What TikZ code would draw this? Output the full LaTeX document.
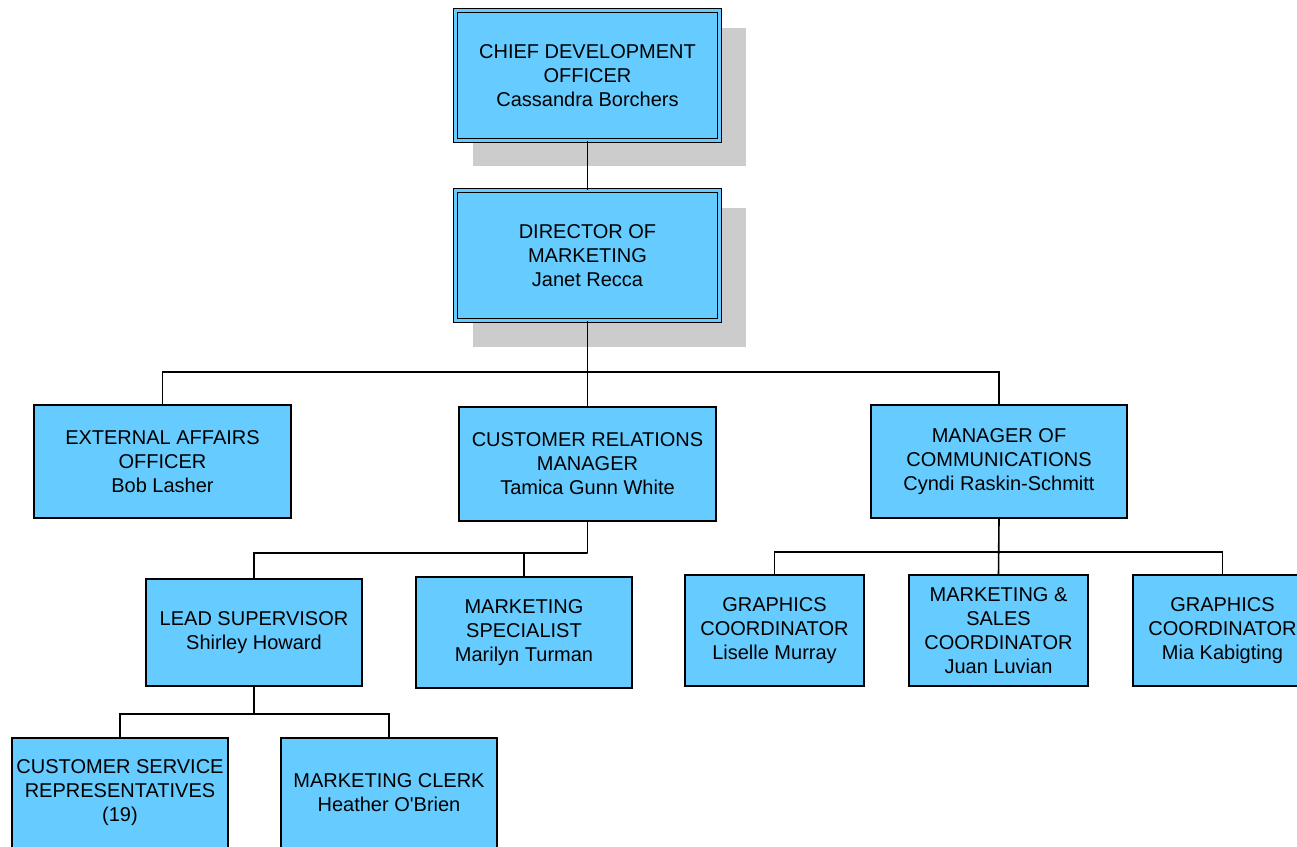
\documentclass[tikz,border=0pt]{standalone}
\usepackage{fontspec}
\setmainfont{Liberation Sans}
\usetikzlibrary{backgrounds}
\definecolor{boxblue}{HTML}{66CCFF}
\definecolor{shadowgray}{HTML}{CCCCCC}
\begin{document}
\begin{tikzpicture}[x=1pt,y=-1pt,
  orgbox/.style={draw=black, fill=boxblue, line width=1.4pt, align=center, inner sep=0pt, font=\fontsize{20}{24}\selectfont},
  topbox/.style={orgbox, double=boxblue, double distance=2.4pt, line width=1.3pt},
  link/.style={draw=black, line width=1.6pt},
  dropshade/.style={fill=shadowgray}]
\useasboundingbox (0,0) rectangle (1297,846);
\clip (0,0) rectangle (1297,846);

\node[topbox, minimum width=264pt, minimum height=130pt] (cdo) at (587.5,75.5) {CHIEF DEVELOPMENT\\OFFICER\\Cassandra Borchers};
\node[topbox, minimum width=264pt, minimum height=130pt] (dm) at (587.5,255.5) {DIRECTOR OF\\MARKETING\\Janet Recca};

\node[orgbox, minimum width=257pt, minimum height=113pt] (eao) at (162.5,461.5) {EXTERNAL AFFAIRS\\OFFICER\\Bob Lasher};
\node[orgbox, minimum width=257pt, minimum height=114pt] (crm) at (587.5,464) {CUSTOMER RELATIONS\\MANAGER\\Tamica Gunn White};
\node[orgbox, minimum width=256pt, minimum height=113pt] (moc) at (999,461.5) {MANAGER OF\\COMMUNICATIONS\\Cyndi Raskin-Schmitt};

\node[orgbox, minimum width=216pt, minimum height=107pt] (ls) at (254,632.5) {LEAD SUPERVISOR\\Shirley Howard};
\node[orgbox, minimum width=216pt, minimum height=111pt] (ms) at (524,632.5) {MARKETING\\SPECIALIST\\Marilyn Turman};

\node[orgbox, minimum width=179pt, minimum height=111pt] (gc1) at (774.5,630.5) {GRAPHICS\\COORDINATOR\\Liselle Murray};
\node[orgbox, minimum width=179pt, minimum height=111pt] (msc) at (998.5,630.5) {MARKETING \&\\SALES\\COORDINATOR\\Juan Luvian};
\node[orgbox, minimum width=179pt, minimum height=111pt] (gc2) at (1222.5,630.5) {GRAPHICS\\COORDINATOR\\Mia Kabigting};

\node[orgbox, minimum width=216pt, minimum height=110pt] (csr) at (120,793) {CUSTOMER SERVICE\\REPRESENTATIVES\\(19)};
\node[orgbox, minimum width=216pt, minimum height=110pt] (mc) at (389,793) {MARKETING CLERK\\Heather O\textquotesingle Brien};

\begin{scope}[on background layer]
  \fill[dropshade] ([shift={(18.5,18.5)}]cdo.north west) rectangle ([shift={(25.5,24.5)}]cdo.south east);
  \fill[dropshade] ([shift={(18.5,18.5)}]dm.north west) rectangle ([shift={(25.5,25.5)}]dm.south east);
\end{scope}

\coordinate (b1) at (587.5,372);
\coordinate (b2) at (587.5,553);
\coordinate (b3) at (999,552);
\coordinate (b4) at (254,714);

\draw[link] (cdo.south) -- (dm.north);
\draw[link] (dm.south) -- (crm.north);
\draw[link] (eao.north) |- (b1) -| (moc.north);
\draw[link] (crm.south) -- (b2);
\draw[link] (ls.north) |- (b2) -| (ms.north);
\draw[link] (moc.south) -- (msc.north);
\draw[link] (gc1.north) |- (b3) -| (gc2.north);
\draw[link] (ls.south) -- (b4);
\draw[link] (csr.north) |- (b4) -| (mc.north);
\end{tikzpicture}
\end{document}
